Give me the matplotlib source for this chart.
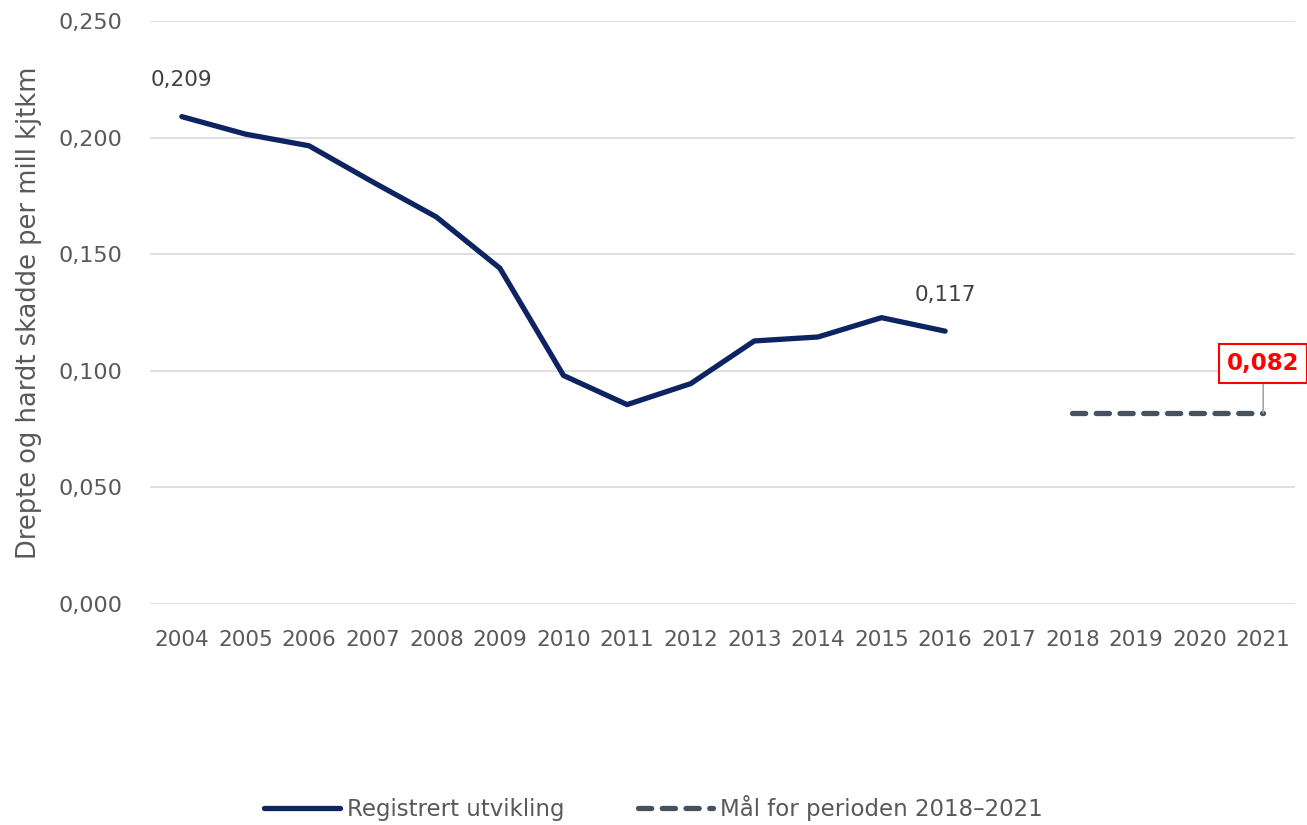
import numpy as np
import matplotlib.pyplot as plt

years = [str(y) for y in range(2004, 2022)]
reg_years = list(range(2004, 2017))
reg_vals = [0.209, 0.2015, 0.1965, 0.181, 0.166, 0.144, 0.098, 0.0855, 0.0945,
            0.1128, 0.1145, 0.1228, 0.117]
goal_years = [2018, 2019, 2020, 2021]
goal_vals = [0.082, 0.082, 0.082, 0.082]

txt = '#595959'
plt.rcParams['font.family'] = ['DejaVu Sans']

fig = plt.figure(figsize=(13.07, 8.25), dpi=100)
ax = fig.add_axes([0.1148, 0.2679, 0.876, 0.7066])

xr = [y - 2004 for y in reg_years]
xg = [y - 2004 for y in goal_years]
ax.plot(xr, reg_vals, color='#0c2461', lw=3.8, solid_capstyle='round',
        label='Registrert utvikling', zorder=3)
ax.plot(xg, goal_vals, color='#46535f', lw=3.8, ls=(0, (2.5, 2)),
        dash_capstyle='round', label='Mål for perioden 2018–2021', zorder=3)

ax.set_xlim(-0.5, len(years) - 0.5)
ax.set_ylim(0, 0.25)
yt = np.arange(0, 0.2501, 0.05)
ax.set_yticks(yt)
ax.set_yticklabels(['{:.3f}'.format(v).replace('.', ',') for v in yt])
ax.set_xticks(range(len(years)))
ax.set_xticklabels(years)
ax.tick_params(axis='y', length=0, labelsize=16, colors=txt, pad=20)
ax.tick_params(axis='x', length=0, labelsize=15.5, colors=txt, pad=19)
ax.grid(axis='y', color='#d9d9d9', lw=1.2)
ax.set_axisbelow(True)
for s in ax.spines.values():
    s.set_visible(False)
ax.set_ylabel('Drepte og hardt skadde per mill kjtkm', fontsize=18.5, color=txt, labelpad=12)

ax.annotate('0,209', (xr[0], reg_vals[0]), xytext=(0, 19), textcoords='offset points',
            ha='center', va='bottom', fontsize=15.5, color='#404040')
ax.annotate('0,117', (xr[-1], reg_vals[-1]), xytext=(0, 19), textcoords='offset points',
            ha='center', va='bottom', fontsize=15.5, color='#404040')
ax.annotate('0,082', (xg[-1], goal_vals[-1]), xytext=(0, 27), textcoords='offset points',
            ha='center', va='bottom', fontsize=16.5, color='#ff0000', fontweight='bold',
            bbox=dict(boxstyle='square,pad=0.35', fc='white', ec='#ff0000', lw=1.5),
            arrowprops=dict(arrowstyle='-', color='#a6a6a6', lw=1.2, shrinkA=0, shrinkB=0))

leg = fig.legend(loc='lower center', bbox_to_anchor=(0.5, -0.02), ncol=2, frameon=False,
                 fontsize=16.5, handlelength=3.3, handletextpad=0.3, columnspacing=3.2)
for t in leg.get_texts():
    t.set_color(txt)

fig.savefig('out.png', dpi=100)
